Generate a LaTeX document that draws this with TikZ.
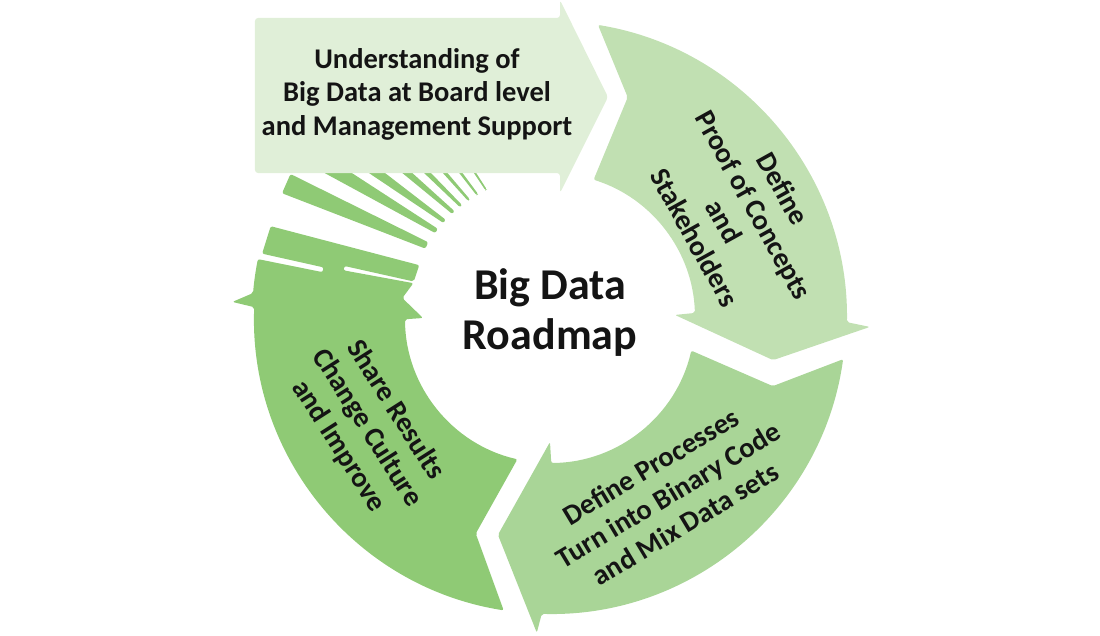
\documentclass[tikz,border=0pt]{standalone}
\usepackage{fontspec}
\setmainfont{Carlito}
\usetikzlibrary{calc}
\definecolor{bannergreen}{HTML}{E0EFD8}
\definecolor{pocgreen}{HTML}{C1E0B2}
\definecolor{procgreen}{HTML}{A9D597}
\definecolor{sharegreen}{HTML}{8FCA75}
\tikzset{
  steptext/.style={font=\bfseries\fontsize{28.5}{33.5}\selectfont, align=center, text=black!92},
}
\begin{document}
\begin{tikzpicture}[x=1pt,y=1pt]
\useasboundingbox (-550,-317) rectangle (550,318);
\foreach \a/\ho/\hi in {149.5/10.5/3.5, 142.5/8.5/2.5, 137.5/7/2, 132.5/5.5/1.8, 128.5/4.5/1.5, 124.5/3.5/1.2, 120.5/2.8/1, 116.5/2.2/0.8}{
  \path ({\a+3.5}:296) coordinate (po) (\a:143) coordinate (pi);
  \fill[sharegreen, rounded corners=2pt] ($(po)!\ho pt!90:(pi)$) -- ($(pi)!\hi pt!-90:(po)$)
    -- ($(pi)!\hi pt!90:(po)$) -- ($(po)!\ho pt!-90:(pi)$) -- cycle;
}
\fill[pocgreen, rounded corners=2pt] (80.7:297) arc[start angle=80.7, end angle=-0.8, radius=297]
  -- (-1.6:320) -- (-10.7:227) -- (1.4:125) -- (2:145) arc[start angle=2, end angle=72.5, radius=145]
  -- (70.6:234) -- cycle;
\fill[procgreen, rounded corners=2pt] (-8:296) arc[start angle=-8, end angle=-91.6, radius=296]
  -- (-92.4:315) -- (-103.5:223) -- (-90:124) -- (-89.5:145) arc[start angle=-89.5, end angle=-13, radius=145]
  -- (-17:233) -- cycle;
\fill[sharegreen, rounded corners=2pt] (-99:296) arc[start angle=-99, end angle=-182.1, radius=296]
  -- (-182.9:318) -- (-184.8:298) arc[start angle=-184.8, end angle=-191.4, radius=298]
  -- (-191.4:232) -- (-192.6:232) -- (-192.6:295) -- (-198.2:294) -- (-202:141) -- (-195:141)
  -- (-194.2:212) -- (-193:212) -- (-194.3:141) -- (-187.7:149) -- (-180:127) -- (-179.5:145)
  arc[start angle=-179.5, end angle=-103, radius=145] -- (-109:228) -- cycle;
\fill[bannergreen, rounded corners=3pt] (-295,145) -- (-295,300) -- (10,300) -- (10,318)
  -- (58,221) -- (10,125) -- (10,145) -- cycle;
\node[steptext] (understanding) at (-133,224) {Understanding of\\Big Data at Board level\\and Management Support};
\node[font=\bfseries\fontsize{44}{50}\selectfont, align=center, text=black!92] (roadmap) at (0,5) {Big Data\\Roadmap};
\node[steptext, rotate=-61] (poc) at (189,105) {Define\\Proof of Concepts\\and\\Stakeholders};
\node[steptext, rotate=31] (processes) at (118,-177) {Define Processes\\Turn into Binary Code\\and Mix Data sets};
\node[steptext, rotate=-57.5] (share) at (-183,-110) {Share Results\\Change Culture\\and Improve};
\end{tikzpicture}
\end{document}
